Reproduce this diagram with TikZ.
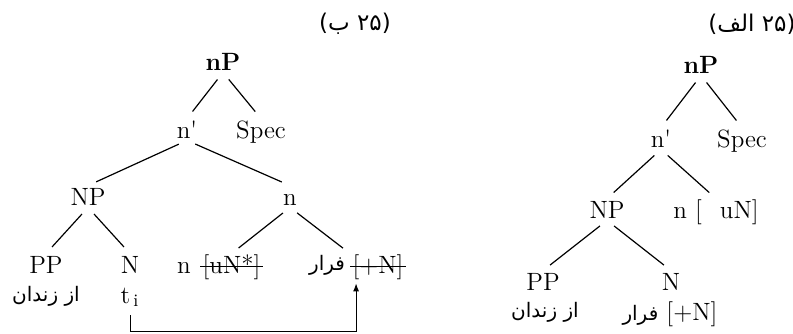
\documentclass[tikz,border=0pt]{standalone}
\usepackage{fontspec}
\usetikzlibrary{arrows.meta,positioning}
\TeXXeTstate=1
\newfontfamily\fafont[Script=Arabic]{DejaVu Sans}

\begin{document}
\begin{tikzpicture}[x=0.5pt,y=-0.5pt,
lab/.style={font=\fontsize{12.5}{14}\selectfont,inner sep=1pt,text height=8.5pt,text depth=0pt},
fa/.style={font=\fontsize{10}{12}\fafont,inner sep=1pt},
tag/.style={font=\fontsize{11.5}{13}\fafont,inner sep=1pt},
branch/.style={line width=0.6pt,shorten <=4.5pt,shorten >=4.5pt},
strike/.style={line width=0.5pt},
arrow/.style={-{Latex[length=4pt,width=3pt]},line width=0.5pt}
]
\useasboundingbox (0,0) rectangle (793,333);

% left tree
\node[tag] (tagB) at (355,24) {\beginR(۲۵ ب)\endR};
\node[lab] (nPb) at (223,61.5) {\textbf{nP}};
\node[lab] (nbarb) at (187,129.5) {n\textquotesingle};
\node[lab] (specb) at (261,129.5) {Spec};
\node[lab] (NPb) at (88,196.5) {NP};
\node[lab] (nb) at (290,196.5) {n};
\node[lab] (PPb) at (46,264.5) {PP};
\node[lab] (Nb) at (130,264.5) {N};
\node[lab] (nhd) at (184,264.5) {n};
\node[lab,right=3.5pt of nhd] (uNs) {[uN*]};
\node[fa] (farb) at (327,265) {\beginR فرار\endR};
\node[lab] (plusN) at (378,264.5) {[+N]};
\node[fa] (zndb) at (46,296) {\beginR از زندان\endR};
\node[lab] (tib) at (130,294.5) {t$_{\,\mathrm{i}}$};
\coordinate (turnb) at (130,331);

\draw[branch] (nPb.south) -- (nbarb.north);
\draw[branch] (nPb.south) -- (specb.north);
\draw[branch] (nbarb.south) -- (NPb.north);
\draw[branch] (nbarb.south) -- (nb.north);
\draw[branch] (NPb.south) -- (PPb.north);
\draw[branch] (NPb.south) -- (Nb.north);
\draw[branch] (nb.south) -- (uNs.north);
\draw[branch] (nb.south) -- (plusN.north west);
% struck features
\draw[strike] ([yshift=-1pt]uNs.west) -- ([yshift=-1pt]uNs.east);
\draw[strike] ([yshift=-1pt]plusN.west) -- ([yshift=-1pt]plusN.east);
\draw[arrow,shorten <=5pt,shorten >=4pt] (tib.south) -- (turnb) -| ([xshift=3pt]plusN.south west);

% right tree
\node[tag] (tagA) at (752,24) {\beginR(۲۵ الف)\endR};
\node[lab] (nPa) at (701,64.5) {\textbf{nP}};
\node[lab] (nbara) at (661,138.5) {n\textquotesingle};
\node[lab] (speca) at (742,138.5) {Spec};
\node[lab] (NPa) at (607,209.5) {NP};
\node[lab] (na) at (716,209.5) {n [\hspace{9pt}uN]};
\node[lab] (PPa) at (543,281.5) {PP};
\node[lab] (Na) at (671,281.5) {N};
\node[fa] (znda) at (545,312) {\beginR از زندان\endR};
\node[lab] (fara) at (670,311.5) {{\fontsize{10}{12}\fafont\beginR فرار\endR}~[+N]};

\draw[branch] (nPa.south) -- (nbara.north);
\draw[branch] (nPa.south) -- (speca.north);
\draw[branch] (nbara.south) -- (NPa.north);
\draw[branch] (nbara.south) -- (na.north);
\draw[branch] (NPa.south) -- (PPa.north);
\draw[branch] (NPa.south) -- (Na.north);
\end{tikzpicture}
\end{document}
